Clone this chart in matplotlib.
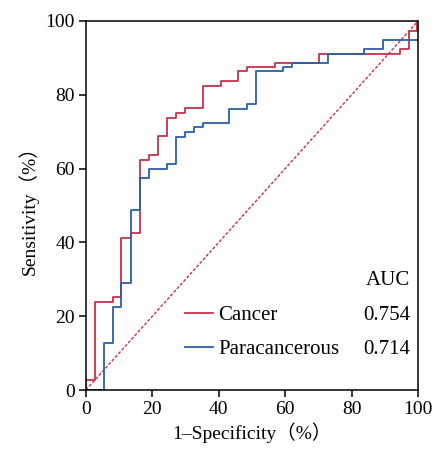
import matplotlib
matplotlib.use('Agg')
import matplotlib.pyplot as plt

plt.rcParams['font.family'] = ['Liberation Serif', 'Noto Sans CJK SC']

# ROC step points (1-specificity %, sensitivity %)
cancer_fpr = [0, 0, 2.7, 8.2, 10.7, 13.5, 16.3, 19.0, 21.8, 24.5, 27.2, 29.8,
              35.3, 40.6, 45.9, 48.6, 56.9, 70.2, 94.6, 97.4, 99.6, 100]
cancer_tpr = [0, 2.7, 23.8, 25.1, 41.1, 42.6, 62.3, 63.8, 68.9, 73.6, 75.0, 76.3,
              82.5, 83.7, 86.3, 87.4, 88.7, 91.0, 92.3, 97.4, 100, 100]

para_fpr = [0, 5.4, 8.2, 10.7, 13.5, 16.3, 19.0, 24.5, 27.2, 29.8, 32.5, 35.3,
            43.2, 48.6, 51.2, 59.4, 62.1, 72.8, 83.7, 89.3, 100]
para_tpr = [0, 12.6, 22.6, 28.9, 48.9, 57.5, 59.9, 61.2, 68.6, 70.0, 71.2, 72.4,
            76.2, 77.4, 86.3, 87.4, 88.7, 91.0, 92.3, 94.9, 94.9]

groups = ['Cancer', 'Paracancerous']
auc = ['0.754', '0.714']
colors = ['#c8304a', '#2a5ea8']
ticks = [0, 20, 40, 60, 80, 100]

fig = plt.figure(figsize=(4.36, 4.49), dpi=100)
ax = fig.add_axes([0.197, 0.1314, 0.762, 0.822])

# reference diagonal
ax.plot([0, 100], [0, 100], color=colors[0], lw=1.0, ls=(0, (2.2, 1.3)))
ax.step(cancer_fpr, cancer_tpr, where='post', color=colors[0], lw=1.3, label=groups[0])
ax.step(para_fpr, para_tpr, where='post', color=colors[1], lw=1.3, label=groups[1])

ax.set_xlim(0, 100)
ax.set_ylim(0, 100)
ax.set_xticks(ticks)
ax.set_yticks(ticks)
ax.tick_params(labelsize=14, length=5, width=1.1, pad=3)
for s in ax.spines.values():
    s.set_linewidth(1.1)

ax.set_xlabel('1–Specificity（%）', fontsize=14, labelpad=3)
ax.set_ylabel('Sensitivity（%）', fontsize=14, labelpad=5)

ax.legend(loc='center left', bbox_to_anchor=(0.298, 0.157), frameon=False,
          fontsize=15, handlelength=1.35, handletextpad=0.25, labelspacing=0.69,
          borderpad=0, borderaxespad=0)

ax.text(0.976, 0.298, 'AUC', transform=ax.transAxes, ha='right', va='center', fontsize=15)
ax.text(0.976, 0.203, auc[0], transform=ax.transAxes, ha='right', va='center', fontsize=15)
ax.text(0.976, 0.111, auc[1], transform=ax.transAxes, ha='right', va='center', fontsize=15)

fig.savefig('out.png', dpi=100)
